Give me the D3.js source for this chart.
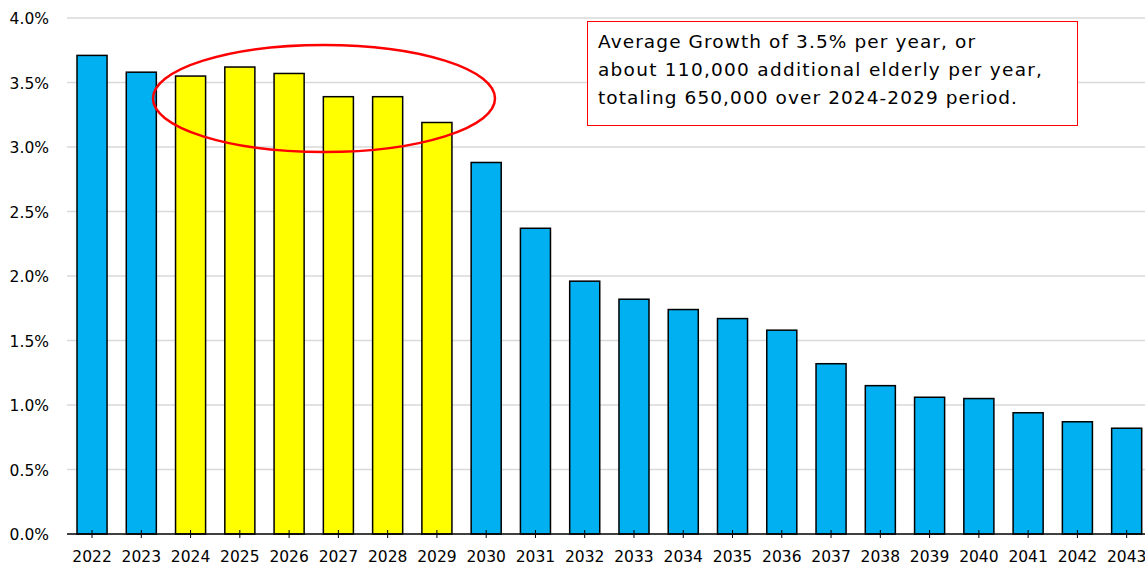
<!DOCTYPE html>
<html>
<head>
<meta charset="utf-8">
<script src="https://cdn.jsdelivr.net/npm/d3@7"></script>
<style>
  body { margin: 0; background: #fff; }
  svg text { font-family: "DejaVu Sans", Verdana, sans-serif; fill: #000; }
</style>
</head>
<body>
<div id="chart"></div>
<script>
// years on the x axis
const years = ["2022","2023","2024","2025","2026","2027","2028","2029","2030","2031","2032",
               "2033","2034","2035","2036","2037","2038","2039","2040","2041","2042","2043"];
// growth rate, percent
const growth = [3.71, 3.58, 3.55, 3.62, 3.57, 3.39, 3.39, 3.19, 2.88, 2.37, 1.96,
                1.82, 1.74, 1.67, 1.58, 1.32, 1.15, 1.06, 1.05, 0.94, 0.87, 0.82];
// highlighted period
const highlight = ["2024","2025","2026","2027","2028","2029"];
const yTicks = [0, 0.5, 1.0, 1.5, 2.0, 2.5, 3.0, 3.5, 4.0];
const noteLines = [
    "Average Growth of 3.5% per year, or",
    "about 110,000 additional elderly per year,",
    "totaling 650,000 over 2024-2029 period."
];

let w = 1145, h = 567;
let svg = d3.select("#chart").append("svg")
    .attr("width", w)
    .attr("height", h);

let x = d3.scaleBand()
    .domain(years)
    .range([67.4, 1151.3])
    .paddingInner(0.39)
    .paddingOuter(0.195);

let y = d3.scaleLinear()
    .domain([0, 4])
    .range([534, 18]);

// gridlines
svg.append("g")
    .selectAll("line")
    .data(yTicks.filter(d => d > 0))
    .enter()
    .append("line")
    .attr("x1", 67)
    .attr("x2", w)
    .attr("y1", d => y(d))
    .attr("y2", d => y(d))
    .attr("stroke", "#d9d9d9")
    .attr("stroke-width", 1.5);

// y tick labels
svg.append("g")
    .selectAll("text")
    .data(yTicks)
    .enter()
    .append("text")
    .attr("x", 49)
    .attr("y", d => y(d) + 6)
    .attr("text-anchor", "end")
    .style("font-size", "15.5px")
    .text(d => d.toFixed(1) + "%");

// bars
svg.append("g")
    .selectAll("rect")
    .data(years)
    .enter()
    .append("rect")
    .attr("x", d => x(d))
    .attr("width", x.bandwidth())
    .attr("y", (d, i) => y(growth[i]))
    .attr("height", (d, i) => y(0) - y(growth[i]))
    .attr("fill", d => highlight.includes(d) ? "#ffff00" : "#00b0f0")
    .attr("stroke", "#000")
    .attr("stroke-width", 1.5);

// x axis
let xAxis = svg.append("g")
    .attr("transform", `translate(0, ${y(0)})`)
    .call(d3.axisBottom(x).tickSize(0).tickPadding(0).tickFormat(""));
xAxis.select(".domain")
    .attr("d", `M67,0H${w}`)
    .attr("stroke", "#000")
    .attr("stroke-width", 1.5);
xAxis.selectAll(".tick").append("line")
    .attr("y1", -4)
    .attr("y2", 4)
    .attr("stroke", "#000")
    .attr("stroke-width", 1);

svg.append("g")
    .selectAll("text")
    .data(years)
    .enter()
    .append("text")
    .attr("x", d => x(d) + x.bandwidth() / 2)
    .attr("y", 562)
    .attr("text-anchor", "middle")
    .style("font-size", "15.5px")
    .text(d => d);

// red ellipse around the highlighted bars
svg.append("ellipse")
    .attr("cx", 324)
    .attr("cy", 98.5)
    .attr("rx", 171)
    .attr("ry", 53.5)
    .attr("fill", "none")
    .attr("stroke", "#ff0000")
    .attr("stroke-width", 2.5);

// note box
svg.append("rect")
    .attr("x", 587.5)
    .attr("y", 21.5)
    .attr("width", 490)
    .attr("height", 104)
    .attr("fill", "#fff")
    .attr("stroke", "#ff0000")
    .attr("stroke-width", 1);

const noteWidths = [377, 444, 419];
let note = svg.append("text")
    .style("font-size", "18.5px");
note.selectAll("tspan")
    .data(noteLines)
    .enter()
    .append("tspan")
    .attr("x", 598)
    .attr("y", (d, i) => 48 + i * 27.8)
    .attr("textLength", (d, i) => noteWidths[i])
    .attr("lengthAdjust", "spacing")
    .text(d => d);
</script>
</body>
</html>
